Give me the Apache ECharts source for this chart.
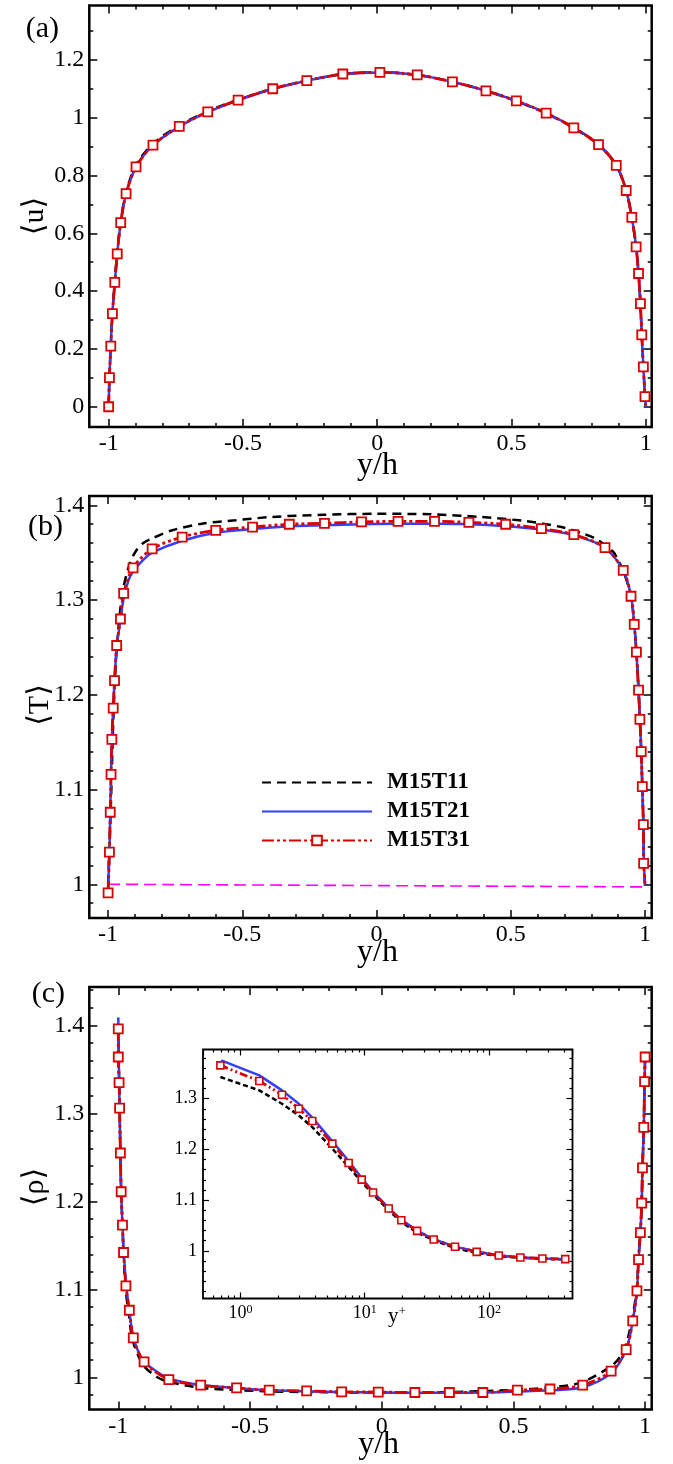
<!DOCTYPE html>
<html>
<head>
<meta charset="utf-8">
<script src="https://cdn.jsdelivr.net/npm/echarts@6/dist/echarts.min.js"></script>
<style>
  html, body { margin: 0; padding: 0; background: #fff; }
  #chart { width: 673px; height: 1464px; }
</style>
</head>
<body>
<div id="chart"></div>
<script>
// ---- tick labels ----
const yhTicks = [-1, -0.5, 0, 0.5, 1];
const uTicks = [0, 0.2, 0.4, 0.6, 0.8, 1, 1.2];
const TTicks = [1, 1.1, 1.2, 1.3, 1.4];
const rhoTicks = [1, 1.1, 1.2, 1.3, 1.4];
const insetRhoTicks = [1, 1.1, 1.2, 1.3];
const legendNames = ['M15T11', 'M15T21', 'M15T31'];

// ---- (a) <u> vs y/h ----
const uT31 = [[-1.0, 0.0], [-0.997, 0.101], [-0.992, 0.210], [-0.986, 0.322], [-0.977, 0.430], [-0.968, 0.529],
  [-0.955, 0.637], [-0.935, 0.737], [-0.898, 0.830], [-0.835, 0.905], [-0.737, 0.970], [-0.631, 1.020],
  [-0.518, 1.061], [-0.389, 1.100], [-0.262, 1.128], [-0.128, 1.151], [0.010, 1.157], [0.149, 1.148],
  [0.280, 1.124], [0.405, 1.093], [0.518, 1.058], [0.629, 1.016], [0.732, 0.965], [0.824, 0.907],
  [0.890, 0.835], [0.927, 0.748], [0.948, 0.655], [0.964, 0.553], [0.973, 0.461], [0.980, 0.357],
  [0.985, 0.249], [0.991, 0.138], [0.997, 0.035]];
const uT31End = [1.0, 0.0];
const uT21 = [[-1.0, 0.0], [-0.997, 0.101], [-0.992, 0.210], [-0.986, 0.322], [-0.977, 0.430], [-0.968, 0.529],
  [-0.955, 0.637], [-0.935, 0.737], [-0.898, 0.829], [-0.835, 0.904], [-0.737, 0.969], [-0.631, 1.019],
  [-0.518, 1.060], [-0.389, 1.099], [-0.262, 1.128], [-0.128, 1.150], [0.010, 1.156], [0.149, 1.148],
  [0.280, 1.124], [0.405, 1.093], [0.518, 1.058], [0.629, 1.016], [0.732, 0.966], [0.824, 0.908],
  [0.890, 0.836], [0.927, 0.748], [0.948, 0.655], [0.964, 0.553], [0.973, 0.461], [0.980, 0.357],
  [0.985, 0.249], [0.991, 0.138], [0.997, 0.035], [1.0, 0.0]];
const uT11 = [[-1.0, 0.0], [-0.997, 0.101], [-0.992, 0.212], [-0.986, 0.325], [-0.977, 0.434], [-0.968, 0.534],
  [-0.955, 0.642], [-0.935, 0.743], [-0.898, 0.836], [-0.835, 0.910], [-0.737, 0.973], [-0.631, 1.022],
  [-0.518, 1.062], [-0.389, 1.100], [-0.262, 1.128], [-0.128, 1.151], [0.010, 1.157], [0.149, 1.148],
  [0.280, 1.124], [0.405, 1.093], [0.518, 1.057], [0.629, 1.015], [0.732, 0.964], [0.824, 0.906],
  [0.890, 0.835], [0.927, 0.748], [0.948, 0.655], [0.964, 0.553], [0.973, 0.461], [0.980, 0.357],
  [0.985, 0.249], [0.991, 0.138], [0.997, 0.035], [1.0, 0.0]];

// ---- (b) <T> vs y/h ----
const TT31 = [[-1.0, 0.991], [-0.995, 1.034], [-0.992, 1.076], [-0.989, 1.116], [-0.986, 1.153], [-0.981, 1.186],
  [-0.976, 1.215], [-0.968, 1.252], [-0.954, 1.280], [-0.942, 1.307], [-0.907, 1.334], [-0.836, 1.354],
  [-0.724, 1.3665], [-0.599, 1.3736], [-0.462, 1.377], [-0.325, 1.380], [-0.194, 1.381], [-0.056, 1.3825],
  [0.080, 1.383], [0.216, 1.383], [0.344, 1.382], [0.481, 1.380], [0.614, 1.3754], [0.735, 1.369],
  [0.851, 1.3553], [0.919, 1.3314], [0.948, 1.304], [0.960, 1.2744], [0.968, 1.245], [0.976, 1.205],
  [0.981, 1.174], [0.986, 1.140], [0.990, 1.103], [0.994, 1.063], [0.995, 1.022]];
const TT31End = [1.0, 1.0];
const TT21 = [[-1.0, 0.995], [-0.995, 1.034], [-0.992, 1.076], [-0.989, 1.116], [-0.986, 1.153], [-0.981, 1.186],
  [-0.976, 1.215], [-0.968, 1.250], [-0.955, 1.277], [-0.942, 1.302], [-0.925, 1.320], [-0.907, 1.330],
  [-0.870, 1.342], [-0.836, 1.350], [-0.724, 1.3626], [-0.599, 1.371], [-0.462, 1.375], [-0.338, 1.3777],
  [-0.194, 1.379], [-0.056, 1.380], [0.080, 1.3805], [0.216, 1.3805], [0.344, 1.380], [0.481, 1.378],
  [0.614, 1.3745], [0.735, 1.3685], [0.851, 1.355], [0.919, 1.331], [0.948, 1.304], [0.960, 1.274],
  [0.968, 1.245], [0.976, 1.205], [0.981, 1.174], [0.986, 1.140], [0.990, 1.103], [0.994, 1.063],
  [0.996, 1.022], [1.0, 1.0]];
const TT11 = [[-1.0, 1.0], [-0.995, 1.040], [-0.990, 1.080], [-0.986, 1.120], [-0.982, 1.160], [-0.977, 1.200],
  [-0.970, 1.240], [-0.960, 1.275], [-0.945, 1.310], [-0.920, 1.338], [-0.898, 1.351], [-0.870, 1.360],
  [-0.836, 1.365], [-0.761, 1.3736], [-0.649, 1.3806], [-0.525, 1.3842], [-0.388, 1.3877], [-0.200, 1.390],
  [0.0, 1.391], [0.200, 1.3905], [0.390, 1.3876], [0.552, 1.3834], [0.689, 1.377], [0.764, 1.3707],
  [0.826, 1.3631], [0.882, 1.3507], [0.900, 1.3419], [0.919, 1.331], [0.948, 1.304], [0.960, 1.274],
  [0.968, 1.245], [0.976, 1.205], [0.981, 1.174], [0.986, 1.140], [0.990, 1.103], [0.994, 1.063],
  [0.996, 1.022], [1.0, 1.0]];
const TWall = [[-1.0, 1.0], [1.012, 0.9972]];

// ---- (c) <rho> vs y/h ----
const rhoT31 = [[-1.0, 1.396], [-1.0, 1.364], [-0.997, 1.335], [-0.995, 1.306], [-0.992, 1.255], [-0.989, 1.211],
  [-0.984, 1.173], [-0.980, 1.142], [-0.971, 1.104], [-0.958, 1.0764], [-0.943, 1.045], [-0.902, 1.0177],
  [-0.808, 0.9977], [-0.687, 0.9913], [-0.551, 0.9882], [-0.427, 0.9856], [-0.285, 0.9848], [-0.152, 0.9837],
  [-0.013, 0.9835], [0.126, 0.983], [0.257, 0.983], [0.384, 0.983], [0.515, 0.9856], [0.639, 0.987],
  [0.763, 0.9913], [0.871, 1.0072], [0.928, 1.0318], [0.953, 1.0643], [0.969, 1.0984], [0.975, 1.134],
  [0.982, 1.1646], [0.987, 1.198], [0.990, 1.238], [0.995, 1.284], [0.998, 1.336], [1.0, 1.364]];
const rhoT21 = [[-1.0, 1.409], [-0.998, 1.360], [-0.995, 1.306], [-0.992, 1.255], [-0.989, 1.211], [-0.984, 1.173],
  [-0.979, 1.142], [-0.970, 1.104], [-0.958, 1.077], [-0.943, 1.046], [-0.905, 1.019], [-0.850, 1.006],
  [-0.808, 0.999], [-0.687, 0.9915], [-0.551, 0.9882], [-0.427, 0.9856], [-0.285, 0.9845], [-0.152, 0.9835],
  [-0.013, 0.983], [0.126, 0.9828], [0.257, 0.9828], [0.384, 0.983], [0.515, 0.984], [0.639, 0.9855],
  [0.763, 0.989], [0.871, 1.005], [0.928, 1.0318], [0.953, 1.0643], [0.969, 1.0984], [0.975, 1.134],
  [0.982, 1.1646], [0.987, 1.198], [0.990, 1.238], [0.995, 1.284], [0.998, 1.336], [1.0, 1.366]];
const rhoT11 = [[-1.0, 1.400], [-0.998, 1.360], [-0.995, 1.306], [-0.992, 1.255], [-0.989, 1.211], [-0.984, 1.173],
  [-0.980, 1.140], [-0.972, 1.100], [-0.960, 1.072], [-0.945, 1.042], [-0.905, 1.014], [-0.850, 1.000],
  [-0.808, 0.9952], [-0.687, 0.9883], [-0.551, 0.9858], [-0.427, 0.9842], [-0.285, 0.9836], [-0.152, 0.9832],
  [-0.013, 0.983], [0.126, 0.983], [0.257, 0.9835], [0.384, 0.9845], [0.515, 0.986], [0.627, 0.9886],
  [0.753, 0.9939], [0.867, 1.012], [0.905, 1.0234], [0.930, 1.040], [0.953, 1.070], [0.967, 1.0984],
  [0.975, 1.134], [0.982, 1.1646], [0.987, 1.198], [0.990, 1.238], [0.995, 1.284], [0.998, 1.336], [1.0, 1.364]];

// ---- inset: <rho> vs y+ ----
const inT31 = [[0.69, 1.3657], [1.42, 1.3348], [2.16, 1.3079], [2.95, 1.2803], [3.79, 1.256], [5.49, 1.2114],
  [7.43, 1.1733], [9.46, 1.1405], [11.67, 1.1149], [15.6, 1.0834], [19.7, 1.0604], [26.4, 1.0394],
  [35.9, 1.0223], [53.3, 1.0079], [79.6, 0.998], [120, 0.9908], [179, 0.9869], [269, 0.9849], [411, 0.9836]];
const inT21 = [[0.70, 1.3755], [1.42, 1.346], [2.16, 1.3164], [2.95, 1.290], [3.79, 1.2626], [5.49, 1.216],
  [7.43, 1.1770], [9.46, 1.1435], [11.67, 1.1165], [15.6, 1.0845], [19.7, 1.061], [26.4, 1.040],
  [35.9, 1.0228], [53.3, 1.0083], [79.6, 0.9985], [120, 0.991], [179, 0.987], [269, 0.985], [411, 0.9836]];
const inT11 = [[0.69, 1.3427], [1.42, 1.3164], [2.16, 1.290], [2.95, 1.267], [3.79, 1.244], [5.49, 1.2015],
  [7.43, 1.1654], [9.46, 1.136], [11.67, 1.1116], [15.6, 1.080], [19.7, 1.057], [26.4, 1.036],
  [35.9, 1.021], [53.3, 1.0053], [79.6, 0.996], [120, 0.9895], [179, 0.9862], [269, 0.9842], [411, 0.983]];

const FONT = '"Liberation Serif", "Times New Roman", "DejaVu Serif", serif';
const RED = '#d80000';
const BLUE = '#3340ff';

// minor ticks between majors
function minorTicks(from, to, step, majors) {
  const out = [];
  for (let v = from; v <= to + 1e-9; v += step) {
    const r = Math.round(v * 1000) / 1000;
    if (!majors.some(m => Math.abs(m - r) < 1e-6)) out.push(r);
  }
  return out;
}

// four-sided frame ticks, major + minor, labels only on bottom/left
function frameAxes(dim, grid, min, max, majors, minors, o) {
  const sides = dim === 'x' ? ['bottom', 'top'] : ['left', 'right'];
  const axes = [];
  sides.forEach((pos, k) => {
    [majors, minors].forEach((vals, m) => {
      axes.push({
        type: 'value', gridIndex: grid, position: pos, min: min, max: max,
        axisLine: { show: false, onZero: false },
        splitLine: { show: false },
        axisTick: { show: true, inside: true, length: m ? o.minorLen : o.majorLen, customValues: vals,
          lineStyle: { color: '#000', width: o.tickWidth } },
        axisLabel: (k === 0 && m === 0) ? {
          show: true, customValues: majors, margin: o.margin, fontFamily: FONT, fontSize: o.fontSize, color: '#000'
        } : { show: false }
      });
    });
  });
  return axes;
}

const mainTick = { majorLen: 8, minorLen: 4, tickWidth: 1.5, margin: 5, fontSize: 24 };
const insetTick = { majorLen: 6, minorLen: 3, tickWidth: 1.2, margin: 6, fontSize: 18 };

const xAxes = [], yAxes = [];
function add(list, defs) { const i = list.length; list.push(...defs); return i; }

const xa = add(xAxes, frameAxes('x', 0, -1.072, 1.022, yhTicks, minorTicks(-1, 1, 0.1, yhTicks), mainTick));
const ya = add(yAxes, frameAxes('y', 0, -0.07, 1.388, uTicks, minorTicks(0.1, 1.3, 0.2, []), mainTick));
const xb = add(xAxes, frameAxes('x', 1, -1.07, 1.025, yhTicks, minorTicks(-1, 1, 0.1, yhTicks), mainTick));
const yb = add(yAxes, frameAxes('y', 1, 0.9644, 1.4098, TTicks, minorTicks(0.98, 1.4, 0.02, TTicks), mainTick));
const xc = add(xAxes, frameAxes('x', 2, -1.11, 1.025, yhTicks, minorTicks(-1, 1, 0.1, yhTicks), mainTick));
const yc = add(yAxes, frameAxes('y', 2, 0.9637, 1.4435, rhoTicks, minorTicks(0.98, 1.44, 0.02, rhoTicks), mainTick));
const yi = add(yAxes, frameAxes('y', 3, 0.906, 1.397, insetRhoTicks, minorTicks(0.92, 1.38, 0.02, insetRhoTicks), insetTick));

// inset log axis (major ticks from the log scale, minor ticks at 2..9 x 10^k)
const yPlusMin = 0.5, yPlusMax = 470;
const logMinor = [];
[-1, 0, 1, 2].forEach(k => {
  for (let m = 2; m <= 9; m++) {
    const v = m * Math.pow(10, k);
    if (v > yPlusMin && v < yPlusMax) logMinor.push(Math.log10(v));
  }
});
function logAxis(pos, labels) {
  return {
    type: 'log', logBase: 10, gridIndex: 3, position: pos, min: yPlusMin, max: yPlusMax,
    axisLine: { show: false, onZero: false }, splitLine: { show: false },
    axisTick: { show: true, inside: true, length: insetTick.majorLen, lineStyle: { color: '#000', width: insetTick.tickWidth } },
    axisLabel: labels ? {
      show: true, margin: 5, showMinLabel: false, showMaxLabel: false,
      formatter: v => '{b|10}{s|' + Math.round(Math.log10(v)) + '}',
      rich: {
        b: { fontFamily: FONT, fontSize: 18, color: '#000', lineHeight: 20 },
        s: { fontFamily: FONT, fontSize: 12, color: '#000', lineHeight: 12, verticalAlign: 'top' }
      }
    } : { show: false }
  };
}
function logMinorAxis(pos) {
  return {
    type: 'value', gridIndex: 3, position: pos, min: Math.log10(yPlusMin), max: Math.log10(yPlusMax),
    axisLine: { show: false, onZero: false }, splitLine: { show: false },
    axisTick: { show: true, inside: true, length: insetTick.minorLen, customValues: logMinor,
      lineStyle: { color: '#000', width: insetTick.tickWidth } },
    axisLabel: { show: false }
  };
}
const xi = add(xAxes, [logAxis('bottom', true), logMinorAxis('bottom'), logAxis('top', false), logMinorAxis('top')]);

// ---- series styles ----
const hidden = { color: 'rgba(0,0,0,0)', borderColor: 'rgba(0,0,0,0)', opacity: 0 };
function black(data, x, y, dash) {
  return { name: 'M15T11', type: 'line', xAxisIndex: x, yAxisIndex: y, data: data, symbol: 'none',
    smooth: dash ? false : 0.3, z: 3, itemStyle: hidden,
    lineStyle: { color: '#000', width: 2.5, type: dash || [9, 6] } };
}
function blue(data, x, y, inset) {
  return { name: 'M15T21', type: 'line', xAxisIndex: x, yAxisIndex: y, data: data, symbol: 'none',
    smooth: inset ? false : 0.3, z: 4, itemStyle: hidden,
    lineStyle: { color: BLUE, width: 2.5, type: 'solid' } };
}
function red(data, end, x, y, inset) {
  const pts = data.slice();
  if (end) pts.push({ value: end, symbol: 'none' });
  return { name: 'M15T31', type: 'line', xAxisIndex: x, yAxisIndex: y, data: pts,
    symbol: 'rect', symbolSize: inset ? 7 : 9, showSymbol: true, smooth: inset ? false : 0.3, z: 5,
    lineStyle: { color: RED, width: 2.8, type: inset ? [8, 3, 2, 3, 2, 3] : [12, 3, 3, 3, 3, 3] },
    itemStyle: { color: '#fff', borderColor: RED, borderWidth: inset ? 1.6 : 1.8 } };
}

const series = [
  red(uT31, uT31End, xa, ya), black(uT11, xa, ya), blue(uT21, xa, ya),
  black(TT11, xb, yb), blue(TT21, xb, yb), red(TT31, TT31End, xb, yb),
  { name: 'wall', type: 'line', xAxisIndex: xb, yAxisIndex: yb, data: TWall, symbol: 'none', z: 2,
    lineStyle: { color: '#ff00ff', width: 1.6, type: [12, 6] } },
  black(rhoT11, xc, yc), blue(rhoT21, xc, yc), red(rhoT31, null, xc, yc),
  black(inT11, xi, yi, [5, 3]), blue(inT21, xi, yi, true), red(inT31, null, xi, yi, true)
];

function txt(text, x, y, size, rot) {
  return { type: 'text', x: x, y: y, rotation: rot || 0, silent: true, z: 10,
    style: { text: text, fontFamily: FONT, fontSize: size, fill: '#000', align: 'center', verticalAlign: 'middle' } };
}

const chart = echarts.init(document.getElementById('chart'), null, { renderer: 'canvas' });
chart.setOption({
  animation: false,
  backgroundColor: '#fff',
  grid: [
    { left: 89.3, top: 5.5, width: 562.4, height: 421.5, show: true, borderColor: '#000', borderWidth: 2.5, backgroundColor: 'transparent' },
    { left: 89.3, top: 496, width: 562.4, height: 422, show: true, borderColor: '#000', borderWidth: 2.5, backgroundColor: 'transparent' },
    { left: 89.3, top: 987, width: 562.4, height: 422.5, show: true, borderColor: '#000', borderWidth: 2.5, backgroundColor: 'transparent' },
    { left: 203, top: 1049.5, width: 369.5, height: 249, show: true, borderColor: '#000', borderWidth: 1.8, backgroundColor: '#fff' }
  ],
  xAxis: xAxes,
  yAxis: yAxes,
  legend: {
    data: [
      { name: legendNames[0], itemStyle: hidden },
      { name: legendNames[1], itemStyle: hidden },
      { name: legendNames[2] }
    ],
    orient: 'vertical', left: 256, top: 766,
    itemWidth: 110, itemHeight: 12, itemGap: 6, selectedMode: false,
    formatter: '{t|{name}}',
    textStyle: { rich: { t: { fontFamily: FONT, fontWeight: 'bold', fontSize: 23, color: '#000', lineHeight: 24, padding: [0, 0, 0, 10] } } }
  },
  graphic: [
    txt('(a)', 42.4, 29, 30), txt('(b)', 45.6, 527.5, 30), txt('(c)', 48.4, 994, 30),
    txt('\u27E8u\u27E9', 35, 216, 30, Math.PI / 2),
    txt('\u27E8T\u27E9', 40, 705, 30, Math.PI / 2),
    txt('\u27E8\u03C1\u27E9', 35, 1187, 30, Math.PI / 2),
    txt('y/h', 377.5, 466, 32), txt('y/h', 377.5, 953, 32), txt('y/h', 378.6, 1445, 32),
    { type: 'text', x: 397, y: 1316, silent: true, z: 10,
      style: { text: '{b|y}{s|+}', align: 'center', verticalAlign: 'middle',
        rich: { b: { fontFamily: FONT, fontSize: 21, fill: '#000', lineHeight: 22 },
                s: { fontFamily: FONT, fontSize: 13, fill: '#000', lineHeight: 13, verticalAlign: 'top' } } } }
  ],
  series: series
});
</script>
</body>
</html>
